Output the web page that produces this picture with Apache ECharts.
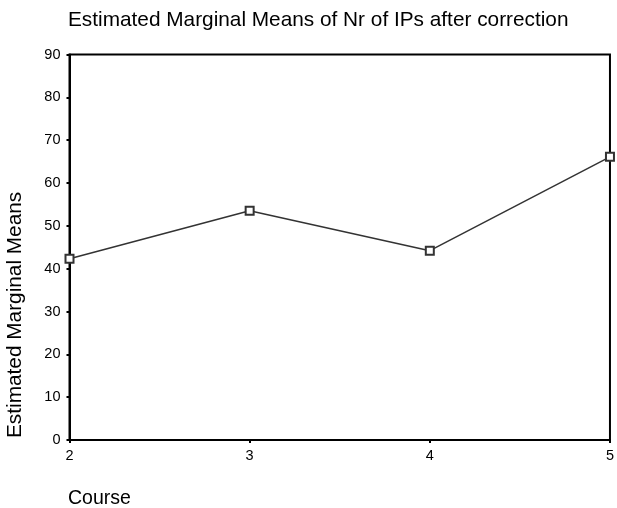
<!DOCTYPE html>
<html>
<head>
<meta charset="utf-8">
<script src="https://cdn.jsdelivr.net/npm/echarts@6/dist/echarts.min.js"></script>
<style>html,body{margin:0;padding:0;background:#fff;}#c{width:617px;height:508px;}</style>
</head>
<body>
<div id="c"></div>
<script>
var courses = [2, 3, 4, 5];
var means = [42.3, 53.5, 44.2, 66.1];
var yTicks = [0, 10, 20, 30, 40, 50, 60, 70, 80, 90];
var titleText = 'Estimated Marginal Means of Nr of IPs after correction';
var yName = 'Estimated Marginal Means';
var xName = 'Course';

var font = '"Liberation Sans", Arial, sans-serif';
var chart = echarts.init(document.getElementById('c'), null, {renderer: 'canvas'});
chart.setOption({
  animation: false,
  backgroundColor: '#fff',
  grid: {left: 69.5, right: 2.5, top: 54.5, bottom: 68, show: true, borderColor: '#000', borderWidth: 2, backgroundColor: 'transparent'},
  xAxis: {
    type: 'value', min: courses[0], max: courses[courses.length - 1], interval: 1,
    axisLine: {lineStyle: {color: '#000', width: 2}},
    axisTick: {show: true, length: 3, lineStyle: {color: '#000', width: 2}},
    axisLabel: {color: '#000', fontFamily: font, fontSize: 14.5, margin: 8},
    splitLine: {show: false}
  },
  yAxis: {
    type: 'value', min: yTicks[0], max: yTicks[yTicks.length - 1], interval: yTicks[1] - yTicks[0],
    axisLine: {show: true, lineStyle: {color: '#000', width: 2}},
    axisTick: {show: true, length: 3, lineStyle: {color: '#000', width: 2}},
    axisLabel: {color: '#000', fontFamily: font, fontSize: 14.5, margin: 9},
    splitLine: {show: false}
  },
  graphic: [
    {type: 'text', left: 68, top: 10, style: {text: titleText, fill: '#000', font: '20.8px ' + font}},
    {type: 'text', x: 15, y: 438, rotation: Math.PI / 2, style: {text: yName, fill: '#000', font: '20.8px ' + font, textAlign: 'left', textVerticalAlign: 'middle'}},
    {type: 'text', x: 68, y: 499, style: {text: xName, fill: '#000', font: '19.5px ' + font, textAlign: 'left', textVerticalAlign: 'middle'}}
  ],
  series: [{
    type: 'line',
    data: courses.map(function (c, i) { return [c, means[i]]; }),
    symbol: 'emptyRect', symbolSize: 8,
    lineStyle: {color: '#333', width: 1.5},
    itemStyle: {color: '#333', borderColor: '#333', borderWidth: 1.5},
    clip: false
  }]
});
</script>
</body>
</html>
